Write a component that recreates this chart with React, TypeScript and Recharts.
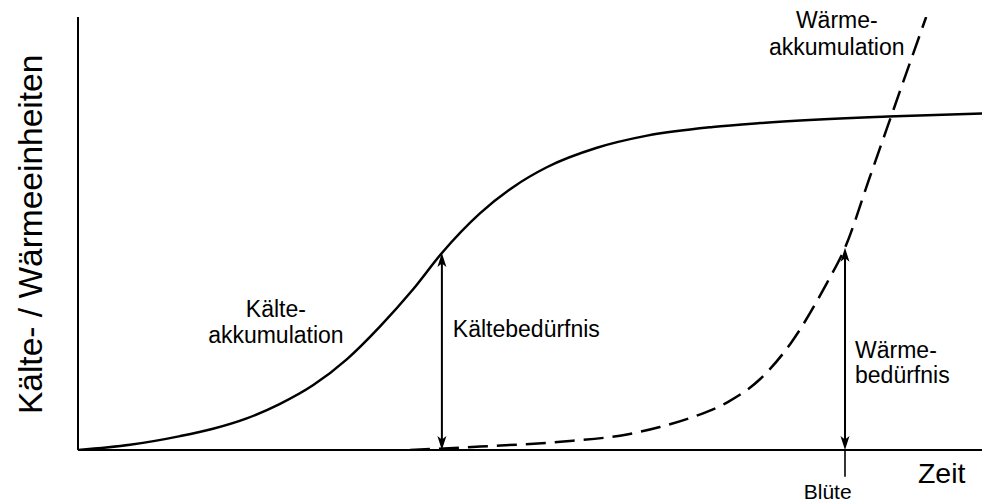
import React from 'react'
import { LineChart, Line, XAxis, YAxis, ReferenceLine, ReferenceDot } from 'recharts'

// time (0-100) and accumulated units (0-100)
const chillTime = [0, 5.7, 11.2, 14.8, 18.5, 22.1, 25.8, 29.5, 33.1, 36.7, 39.9, 44.1, 47.7, 51.4, 56.9, 62.4, 69.6, 74.8, 88.8, 100]
const chillUnits = [0, 1.2, 3.2, 4.9, 7.3, 10.6, 15.0, 21.0, 28.5, 37.0, 45.5, 54.7, 60.7, 65.3, 69.8, 72.6, 74.6, 75.5, 77.0, 77.8]

const heatTime = [36.4, 44.1, 52.9, 60.2, 63.8, 67.4, 71.2, 74.8, 78.1, 82.1, 84.1, 86.8, 88.8, 90.9, 93.0]
const heatUnits = [0, 0.8, 1.9, 3.6, 5.3, 7.6, 11.0, 16.4, 24.5, 38.5, 46.7, 62.9, 74.9, 87.5, 100]

const chillData = chillTime.map((t, i) => ({ t, v: chillUnits[i] }))
const heatData = heatTime.map((t, i) => ({ t, v: heatUnits[i] }))

// the two requirement arrows sit on a point of each curve
const chillReq = chillData[10]
const heatReq = heatData[10]

const FONT = '"Liberation Sans", Arial, Helvetica, sans-serif'

type Note = { lines: string[]; t: number; v: number; anchor: 'start' | 'middle'; size: number; lh: number; rotate?: boolean }

const notes: Note[] = [
  { lines: ['Kälte-', 'akkumulation'], t: 21.7, v: 30.7, anchor: 'middle', size: 23, lh: 26 },
  { lines: ['Kältebedürfnis'], t: 41.1, v: 26.1, anchor: 'start', size: 23, lh: 26 },
  { lines: ['Wärme-', 'akkumulation'], t: 83.2, v: 97.5, anchor: 'middle', size: 23, lh: 27 },
  { lines: ['Wärme-', 'bedürfnis'], t: 85.2, v: 21.2, anchor: 'start', size: 23, lh: 25 },
  { lines: ['Blüte'], t: 82.2, v: -11.3, anchor: 'middle', size: 21, lh: 0 },
  { lines: ['Zeit'], t: 92.1, v: -7.6, anchor: 'start', size: 28.5, lh: 0 },
  { lines: ['Kälte- / Wärmeeinheiten'], t: -3.95, v: 49.8, anchor: 'middle', size: 33.5, lh: 0, rotate: true },
]

const noteShape = (n: Note) => (p: any) => (
  <text
    x={p.cx}
    y={p.cy}
    textAnchor={n.anchor}
    fontFamily={FONT}
    fontSize={n.size}
    fill="#000"
    transform={n.rotate ? `rotate(-90 ${p.cx} ${p.cy})` : undefined}
  >
    {n.lines.map((l, i) => (
      <tspan key={i} x={p.cx} dy={i === 0 ? 0 : n.lh}>{l}</tspan>
    ))}
  </text>
)

// vertical line with a head at both ends
const DoubleArrow = (p: any) => {
  const { x1, y1, x2, y2 } = p
  const top = Math.min(y1, y2)
  const bottom = Math.max(y1, y2)
  const x = x1
  const hl = 14
  const hw = 4.5
  const notch = 3.5
  return (
    <g>
      <line x1={x} y1={top + 4} x2={x} y2={bottom - 4} stroke="#000" strokeWidth={2} />
      <path d={`M${x},${top} L${x - hw},${top + hl} L${x},${top + hl - notch} L${x + hw},${top + hl} Z`} fill="#000" />
      <path d={`M${x},${bottom} L${x - hw},${bottom - hl} L${x},${bottom - hl + notch} L${x + hw},${bottom - hl} Z`} fill="#000" />
    </g>
  )
}

export default function App() {
  return (
    <LineChart width={982} height={496} margin={{ top: 9, right: 0, bottom: 24, left: 0 }}>
      <XAxis
        type="number"
        dataKey="t"
        domain={[0, 100]}
        allowDataOverflow
        tick={false}
        tickLine={false}
        axisLine={{ stroke: '#000', strokeWidth: 2 }}
        height={30}
      />
      <YAxis
        type="number"
        dataKey="v"
        domain={[0, 100]}
        allowDataOverflow
        tick={false}
        tickLine={false}
        axisLine={{ stroke: '#000', strokeWidth: 2 }}
        width={70}
      />
      <Line
        data={chillData}
        dataKey="v"
        type="monotone"
        stroke="#000"
        strokeWidth={2.5}
        dot={false}
        activeDot={false}
        isAnimationActive={false}
      />
      <Line
        data={heatData}
        dataKey="v"
        type="monotone"
        stroke="#000"
        strokeWidth={2.5}
        strokeDasharray="20 9"
        dot={false}
        activeDot={false}
        isAnimationActive={false}
      />
      <ReferenceLine
        segment={[{ x: chillReq.t, y: 0 }, { x: chillReq.t, y: chillReq.v }]}
        shape={DoubleArrow}
        ifOverflow="visible"
      />
      <ReferenceLine
        segment={[{ x: heatReq.t, y: 0 }, { x: heatReq.t, y: heatReq.v }]}
        shape={DoubleArrow}
        ifOverflow="visible"
      />
      <ReferenceLine
        segment={[{ x: heatReq.t, y: 0 }, { x: heatReq.t, y: -6.2 }]}
        stroke="#000"
        strokeWidth={1.6}
        ifOverflow="visible"
      />
      {notes.map((n, i) => (
        <ReferenceDot key={i} x={n.t} y={n.v} r={0} ifOverflow="visible" shape={noteShape(n)} />
      ))}
    </LineChart>
  )
}
